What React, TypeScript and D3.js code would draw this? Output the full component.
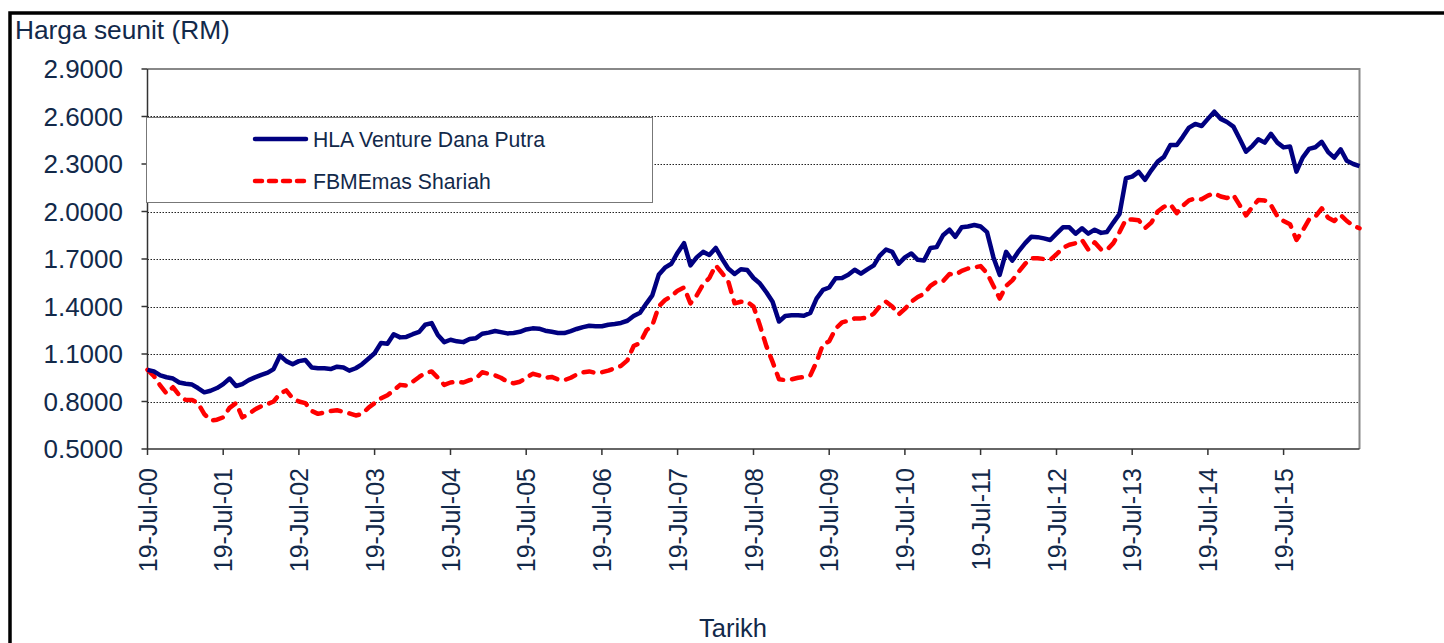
import * as d3 from "d3";
import React from "react";

// monthly unit prices, 19-Jul-00 onwards
const startDate = new Date(2000, 6, 19);
const endDate = new Date(2016, 6, 19);
const yTicks = [0.5, 0.8, 1.1, 1.4, 1.7, 2.0, 2.3, 2.6, 2.9];
const tickYears = d3.range(2000, 2016);

const hlaVentureDanaPutra = [
  1.0, 0.99, 0.965, 0.953, 0.945, 0.92, 0.912, 0.907, 0.885, 0.858, 0.868, 0.885,
  0.91, 0.945, 0.898, 0.91, 0.935, 0.952, 0.968, 0.982, 1.005, 1.09, 1.055, 1.035,
  1.055, 1.062, 1.015, 1.01, 1.01, 1.005, 1.02, 1.015, 0.995, 1.01, 1.035, 1.07,
  1.105, 1.17, 1.165, 1.225, 1.205, 1.208, 1.225, 1.24, 1.285, 1.295, 1.22, 1.175,
  1.19, 1.18, 1.175, 1.195, 1.2, 1.228, 1.235, 1.245, 1.238, 1.23, 1.233, 1.24,
  1.255, 1.262, 1.26, 1.247, 1.24, 1.233, 1.232, 1.245, 1.258, 1.27, 1.278, 1.275,
  1.275, 1.285, 1.29, 1.296, 1.31, 1.34, 1.36, 1.42, 1.47, 1.6, 1.645, 1.67,
  1.74, 1.8, 1.66, 1.71, 1.745, 1.725, 1.77, 1.7, 1.64, 1.605, 1.635, 1.63,
  1.58, 1.545, 1.49, 1.43, 1.305, 1.34, 1.345, 1.344, 1.342, 1.36, 1.45, 1.505,
  1.52, 1.578, 1.58, 1.6, 1.632, 1.607, 1.635, 1.66, 1.72, 1.76, 1.745, 1.67,
  1.71, 1.735, 1.695, 1.69, 1.77, 1.775, 1.85, 1.885, 1.84, 1.9, 1.905, 1.915,
  1.905, 1.87, 1.71, 1.6, 1.745, 1.69, 1.75, 1.8, 1.84, 1.838, 1.83, 1.82,
  1.86, 1.9, 1.9, 1.86, 1.894, 1.86, 1.885, 1.865, 1.87, 1.93, 1.985, 2.21,
  2.22, 2.25, 2.2, 2.26, 2.315, 2.345, 2.42, 2.42, 2.47, 2.53, 2.553, 2.54,
  2.585, 2.63, 2.585, 2.565, 2.536, 2.46, 2.378, 2.415, 2.456, 2.435, 2.49, 2.435,
  2.405, 2.41, 2.252, 2.34, 2.395, 2.406, 2.44, 2.375, 2.34, 2.393, 2.32, 2.3,
  2.287,
];

const fbmEmasShariah = [
  1.0, 0.96, 0.9, 0.85, 0.89, 0.84, 0.81, 0.81, 0.79, 0.72, 0.68, 0.685,
  0.7, 0.76, 0.79, 0.7, 0.72, 0.75, 0.77, 0.785, 0.8, 0.85, 0.87, 0.82,
  0.8, 0.79, 0.74, 0.722, 0.73, 0.74, 0.745, 0.735, 0.725, 0.712, 0.72, 0.76,
  0.79, 0.82, 0.84, 0.87, 0.905, 0.9, 0.925, 0.955, 0.98, 0.99, 0.95, 0.905,
  0.92, 0.925, 0.92, 0.935, 0.945, 0.985, 0.975, 0.965, 0.95, 0.925, 0.915, 0.925,
  0.95, 0.975, 0.965, 0.95, 0.955, 0.94, 0.935, 0.95, 0.97, 0.985, 0.99, 0.98,
  0.985, 0.995, 1.01, 1.025, 1.06, 1.15, 1.17, 1.25, 1.28, 1.4, 1.44, 1.465,
  1.5, 1.52, 1.42, 1.47, 1.54, 1.58, 1.66, 1.61, 1.56, 1.42, 1.43, 1.43,
  1.4, 1.28, 1.15, 1.05, 0.94, 0.935, 0.94, 0.95, 0.955, 0.965, 1.05, 1.16,
  1.18, 1.26, 1.3, 1.31, 1.325, 1.325, 1.33, 1.355, 1.4, 1.43, 1.4, 1.35,
  1.385, 1.43, 1.46, 1.48, 1.53, 1.557, 1.56, 1.605, 1.6, 1.625, 1.64, 1.647,
  1.655, 1.61, 1.53, 1.45, 1.53, 1.565, 1.62, 1.67, 1.705, 1.705, 1.7, 1.694,
  1.73, 1.77, 1.79, 1.8, 1.82, 1.76, 1.805, 1.76, 1.757, 1.8, 1.87, 1.95,
  1.95, 1.945, 1.895, 1.93, 2.0, 2.03, 2.045, 1.99, 2.035, 2.07, 2.083, 2.077,
  2.1, 2.115, 2.095, 2.085, 2.104, 2.04, 1.975, 2.03, 2.073, 2.07, 2.04, 1.97,
  1.94, 1.92, 1.82, 1.88, 1.95, 1.967, 2.02, 1.96, 1.94, 1.978, 1.94, 1.91,
  1.894,
];

const seriesNames = ["HLA Venture Dana Putra", "FBMEmas Shariah"];

const W = 1444;
const H = 643;
const left = 147.5;
const right = 1359.5;
const top = 69;
const bottom = 449;
const textColor = "#12294a";
const font = "'Liberation Sans', Arial, sans-serif";

export default function App() {
  const x = d3.scaleTime().domain([startDate, endDate]).range([left, right]);
  const y = d3.scaleLinear().domain([0.5, 2.9]).range([bottom, top]);
  const fmtDate = d3.timeFormat("%d-%b-%y");

  const line = d3
    .line<number>()
    .x((_, i) => x(d3.timeMonth.offset(startDate, i)))
    .y((d) => y(d));

  const xTicks = tickYears.map((yr) => new Date(yr, 6, 19));

  return (
    <svg
      width={W}
      height={H}
      style={{ position: "absolute", left: 0, top: 0, background: "#fff" }}
      fontFamily={font}
    >
      <rect width={W} height={H} fill="#fff" />
      {/* outer frame */}
      <path d={`M10,${H} L10,13 L${W},13`} fill="none" stroke="#000" strokeWidth={3.5} />

      <text x={15} y={39} fontSize={26.3} fill={textColor}>
        Harga seunit (RM)
      </text>

      {/* grid */}
      {yTicks.slice(1, -1).map((t) => (
        <line
          key={t}
          x1={left}
          x2={right}
          y1={Math.round(y(t)) + 0.5}
          y2={Math.round(y(t)) + 0.5}
          stroke="#222"
          strokeDasharray="1.5,1.5"
          strokeWidth={1}
        />
      ))}
      {/* plot border */}
      <path
        d={`M${left},${top} L${right},${top} L${right},${bottom}`}
        fill="none"
        stroke="#888"
        strokeWidth={2}
      />

      {/* y axis */}
      <line x1={left} x2={left} y1={top} y2={bottom} stroke="#333" strokeWidth={1.5} />
      {yTicks.map((t) => (
        <g key={t}>
          <line x1={left - 6} x2={left} y1={y(t)} y2={y(t)} stroke="#333" strokeWidth={1.5} />
          <text
            x={123}
            y={y(t)}
            dy="0.35em"
            textAnchor="end"
            fontSize={26}
            fill={textColor}
          >
            {t.toFixed(4)}
          </text>
        </g>
      ))}

      {/* x axis */}
      <line x1={left} x2={right} y1={bottom} y2={bottom} stroke="#333" strokeWidth={1.5} />
      {xTicks.map((d) => (
        <g key={d.getTime()} transform={`translate(${x(d)},0)`}>
          <line y1={bottom} y2={bottom + 6} stroke="#333" strokeWidth={1.5} />
          <text
            transform={`translate(0,${bottom + 19}) rotate(-90)`}
            textAnchor="end"
            dy="0.36em"
            fontSize={25}
            fill={textColor}
          >
            {fmtDate(d)}
          </text>
        </g>
      ))}
      <text x={733} y={637} textAnchor="middle" fontSize={25.5} fill={textColor}>
        Tarikh
      </text>

      {/* series */}
      <path
        d={line(fbmEmasShariah) || ""}
        fill="none"
        stroke="#ff0000"
        strokeWidth={4.5}
        strokeDasharray="10,9"
        strokeLinecap="round"
        strokeLinejoin="round"
      />
      <path
        d={line(hlaVentureDanaPutra) || ""}
        fill="none"
        stroke="#000080"
        strokeWidth={4.5}
        strokeLinejoin="round"
      />

      {/* legend */}
      <rect x={146.5} y={117.5} width={506} height={85} fill="#fff" stroke="#777" strokeWidth={1} />
      <line x1={255} x2={306} y1={139} y2={139} stroke="#000080" strokeWidth={4.5} strokeLinecap="round" />
      <line
        x1={255}
        x2={306}
        y1={181}
        y2={181}
        stroke="#ff0000"
        strokeWidth={4.5}
        strokeDasharray="7,7"
        strokeLinecap="round"
      />
      <text x={313} y={139} dy="0.36em" fontSize={21.2} fill={textColor}>
        {seriesNames[0]}
      </text>
      <text x={313} y={181} dy="0.36em" fontSize={21.2} fill={textColor}>
        {seriesNames[1]}
      </text>
    </svg>
  );
}
